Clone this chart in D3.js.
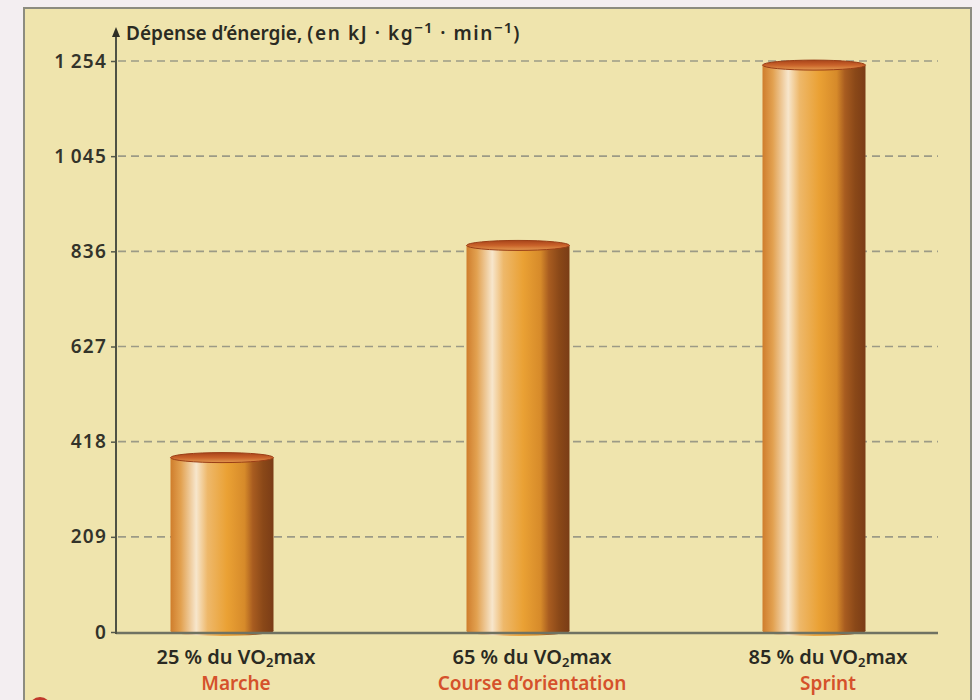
<!DOCTYPE html>
<html>
<head>
<meta charset="utf-8">
<script src="https://cdn.jsdelivr.net/npm/d3@7"></script>
<style>
  html, body { margin: 0; padding: 0; background: #f3eef1; }
  svg { display: block; }
  text { font-family: "Noto Sans", "Open Sans", sans-serif; }
</style>
</head>
<body>
<svg id="chart" width="980" height="700"></svg>
<script>
// Energy expenditure by exercise intensity
const intensities = ["25", "65", "85"];
const activities = ["Marche", "Course d\u2019orientation", "Sprint"];
const energy = [383, 849, 1245];
const yTicks = [0, 209, 418, 627, 836, 1045, 1254];

const svg = d3.select("#chart");

// card background
svg.append("rect")
  .attr("x", 24).attr("y", 8).attr("width", 947).attr("height", 700)
  .attr("fill", "#efe4ad").attr("stroke", "#8c8c80").attr("stroke-width", 2);

// little red marker peeking at the bottom-left corner
svg.append("circle").attr("cx", 40).attr("cy", 708).attr("r", 11).attr("fill", "#c0392b");

const plot = { left: 116, right: 938, top: 61, bottom: 632 };

const y = d3.scaleLinear().domain([0, 1254]).range([plot.bottom, plot.top]);
const x = d3.scalePoint().domain(activities).range([222, 814]);

const fmt = v => d3.format(",")(v).replace(/,/g, "\u2009");

// dashed gridlines
svg.append("g").selectAll("line")
  .data(yTicks.filter(d => d > 0))
  .join("line")
  .attr("x1", plot.left + 2).attr("x2", plot.right)
  .attr("y1", d => y(d)).attr("y2", d => y(d))
  .attr("stroke", "#9c9a86").attr("stroke-width", 1.6)
  .attr("stroke-dasharray", "8,5");

// y axis with tick labels
const yAxis = d3.axisLeft(y).tickValues(yTicks).tickFormat(fmt).tickSize(5).tickPadding(4);
const gy = svg.append("g").attr("transform", `translate(${plot.left},0)`).call(yAxis);
gy.select(".domain").remove();
gy.selectAll(".tick line").attr("stroke", "#55584a").attr("stroke-width", 1.5);
gy.selectAll(".tick text")
  .attr("fill", "#33332a").attr("font-size", 19).attr("font-weight", 600)
  .attr("letter-spacing", 1.2);

// bar gradient: lit cylinder
const defs = svg.append("defs");
const grad = defs.append("linearGradient").attr("id", "cyl").attr("x1", "0").attr("x2", "1").attr("y1", "0").attr("y2", "0");
[[0, "#cf7d2c"], [0.1, "#e2a150"], [0.25, "#f7e6cc"], [0.36, "#eeb86a"], [0.55, "#eaa134"],
 [0.72, "#d68a2a"], [0.8, "#a85c20"], [0.9, "#8a4818"], [1, "#7a3c16"]]
  .forEach(([o, c]) => grad.append("stop").attr("offset", o).attr("stop-color", c));
const capGrad = defs.append("linearGradient").attr("id", "cap").attr("x1", "0").attr("x2", "0").attr("y1", "0").attr("y2", "1");
[[0, "#a8431a"], [0.5, "#c9622a"], [1, "#e39a50"]]
  .forEach(([o, c]) => capGrad.append("stop").attr("offset", o).attr("stop-color", c));

const barW = 103, ry = 5;
const bars = svg.append("g").selectAll("g")
  .data(activities.map((a, i) => ({ a, v: energy[i] })))
  .join("g");

// rounded base
bars.append("ellipse")
  .attr("cx", d => x(d.a)).attr("cy", y(0) - 1)
  .attr("rx", barW / 2).attr("ry", ry).attr("fill", "url(#cyl)");
// body
bars.append("rect")
  .attr("x", d => x(d.a) - barW / 2).attr("width", barW)
  .attr("y", d => y(d.v)).attr("height", d => y(0) - 1 - y(d.v))
  .attr("fill", "url(#cyl)");
// top face
bars.append("ellipse")
  .attr("cx", d => x(d.a)).attr("cy", d => y(d.v))
  .attr("rx", barW / 2).attr("ry", ry)
  .attr("fill", "url(#cap)").attr("stroke", "#9a3e16").attr("stroke-width", 1);

// x axis line
svg.append("line")
  .attr("x1", plot.left).attr("x2", plot.right)
  .attr("y1", plot.bottom + 1).attr("y2", plot.bottom + 1)
  .attr("stroke", "#6f7262").attr("stroke-width", 2.5);

// vertical axis with arrow
svg.append("line")
  .attr("x1", plot.left).attr("x2", plot.left)
  .attr("y1", plot.bottom + 2).attr("y2", 34)
  .attr("stroke", "#4f5244").attr("stroke-width", 2);
svg.append("path")
  .attr("d", `M${plot.left - 4},37 L${plot.left},27 L${plot.left + 4},37 Z`)
  .attr("fill", "#2e2e26");

// axis title
const title = svg.append("text")
  .attr("x", 126).attr("y", 40)
  .attr("fill", "#2a2a22").attr("font-size", 19).attr("font-weight", 600);
title.append("tspan").text("D\u00e9pense d\u2019\u00e9nergie, ");
title.append("tspan").attr("letter-spacing", 1.6).text("(en kJ \u00b7 kg");
title.append("tspan").attr("dy", -7).attr("font-size", 15).attr("letter-spacing", 1).text("\u22121");
title.append("tspan").attr("dy", 7).attr("letter-spacing", 1.6).text(" \u00b7 min");
title.append("tspan").attr("dy", -7).attr("font-size", 15).attr("letter-spacing", 1).text("\u22121");
title.append("tspan").attr("dy", 7).text(")");

// category labels
const labels = svg.append("g").selectAll("g")
  .data(activities.map((a, i) => ({ a, p: intensities[i] })))
  .join("g")
  .attr("transform", d => `translate(${x(d.a) + 14},0)`);

const l1 = labels.append("text")
  .attr("y", 664).attr("text-anchor", "middle")
  .attr("fill", "#2a2a22").attr("font-size", 20).attr("font-weight", 600);
l1.append("tspan").text(d => `${d.p} % du VO`);
l1.append("tspan").attr("dy", 3).attr("font-size", 13).text("2");
l1.append("tspan").attr("dy", -3).text("max");

labels.append("text")
  .attr("y", 690).attr("text-anchor", "middle")
  .attr("fill", "#d5512b").attr("font-size", 19).attr("font-weight", 600)
  .text(d => d.a);
</script>
</body>
</html>
